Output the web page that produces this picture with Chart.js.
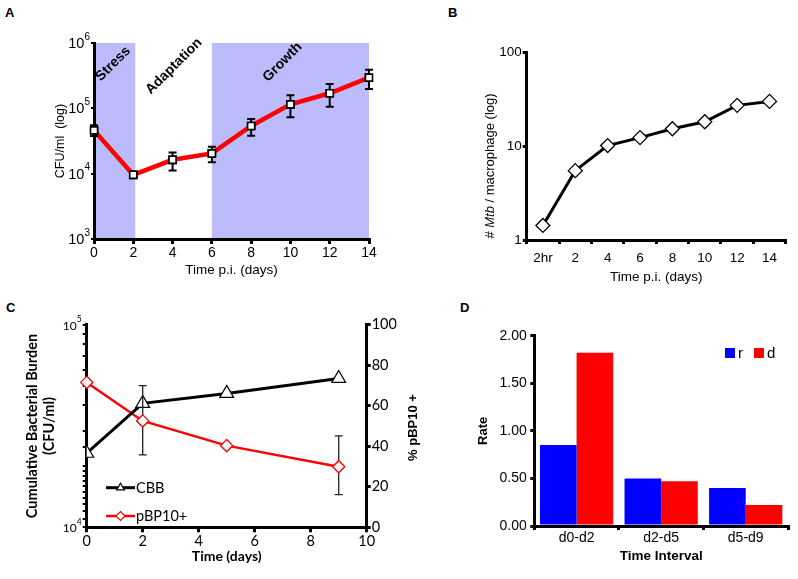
<!DOCTYPE html>
<html><head><meta charset="utf-8">
<script src="https://cdn.jsdelivr.net/npm/chart.js@4.4.0/dist/chart.umd.min.js"></script>
<style>
html,body{margin:0;padding:0;background:#fff;width:798px;height:579px;overflow:hidden;}
.pane{position:absolute;}
.lbl{position:absolute;font:bold 13px 'Liberation Sans',Arial,sans-serif;color:#000;line-height:13px;}
</style></head><body>
<div class="lbl" style="left:5px;top:6px">A</div>
<div class="lbl" style="left:448px;top:6px">B</div>
<div class="lbl" style="left:6px;top:301px">C</div>
<div class="lbl" style="left:460px;top:301px">D</div>
<div class="pane" style="left:0;top:0;width:400px;height:290px"><canvas id="cA"></canvas></div>
<div class="pane" style="left:400px;top:0;width:398px;height:290px"><canvas id="cB"></canvas></div>
<div class="pane" style="left:0;top:290px;width:430px;height:289px"><canvas id="cC"></canvas></div>
<div class="pane" style="left:430px;top:290px;width:368px;height:289px"><canvas id="cD"></canvas></div>
<script>
// ---------- data ----------
const A_days = [0, 2, 4, 6, 8, 10, 12, 14];
const A_cfu = [46000, 9600, 16300, 20400, 53600, 115000, 170000, 295000];
const A_errHigh = [55000, null, 21000, 25800, 68500, 158000, 236000, 390000];
const A_errLow = [37700, null, 11200, 14900, 38000, 73000, 106000, 197000];
const A_yTicks = [1e3, 1e4, 1e5, 1e6];
const A_phaseNames = ['Stress', 'Adaptation', 'Growth'];
const A_shadeStart = [0, 6];
const A_shadeEnd = [2.1, 14];

const B_labels = ['2hr', '2', '4', '6', '8', '10', '12', '14'];
const B_values = [1.43, 5.5, 10.2, 12.4, 15.4, 18.3, 27.4, 30.2];
const B_yTicks = [1, 10, 100];

const C_days = [0, 2, 5, 9];
const C_cbb = [23200, 40900, 45800, 54300];
const C_pbp = [71.5, 52.5, 40.3, 29.9];
const C_pbpErrLow = [null, 35.7, null, 16.1];
const C_pbpErrHigh = [null, 69.9, null, 45.1];

const D_labels = ['d0-d2', 'd2-d5', 'd5-d9'];
const D_r = [0.85, 0.50, 0.40];
const D_d = [1.82, 0.47, 0.22];

// ---------- helpers ----------
const ARIAL = "'Liberation Sans', Arial, sans-serif";
const CAL = "Lato, 'Liberation Sans', sans-serif";
Chart.defaults.color = '#000';
Chart.defaults.font.family = ARIAL;
Chart.defaults.animation = false;

function isPow10(v) { const e = Math.log10(v); return Math.abs(e - Math.round(e)) < 1e-9; }

// draws "10" with a raised exponent for the power-of-ten ticks of a log scale
function powLabelsPlugin(scaleId, baseSize, expSize, family, gap) {
  return {
    id: 'pow_' + scaleId,
    afterDraw(chart) {
      const s = chart.scales[scaleId];
      const ctx = chart.ctx;
      ctx.save();
      ctx.fillStyle = '#000';
      ctx.textBaseline = 'middle';
      s.ticks.forEach(t => {
        if (!isPow10(t.value)) return;
        const e = String(Math.round(Math.log10(t.value)));
        const y = s.getPixelForValue(t.value);
        const xr = s.right - gap;
        ctx.font = expSize + 'px ' + family;
        const ew = ctx.measureText(e).width;
        ctx.textAlign = 'left';
        ctx.fillText(e, xr - ew, y - baseSize * 0.42);
        ctx.font = baseSize + 'px ' + family;
        ctx.textAlign = 'right';
        ctx.fillText('10', xr - ew, y + 1);
      });
      ctx.restore();
    }
  };
}

const errorBarPlugin = {
  id: 'errbars',
  afterDatasetsDraw(chart) {
    const ctx = chart.ctx;
    chart.data.datasets.forEach((ds, di) => {
      if (!ds.errLow) return;
      const meta = chart.getDatasetMeta(di);
      const ys = chart.scales[meta.yAxisID];
      ctx.save();
      ctx.strokeStyle = ds.errColor || '#000';
      ctx.lineWidth = ds.errWidth || 2;
      const cap = ds.errCap || 4;
      meta.data.forEach((pt, i) => {
        const lo = ds.errLow[i], hi = ds.errHigh[i];
        if (lo == null || hi == null) return;
        const x = pt.x;
        const y1 = ys.getPixelForValue(lo), y2 = ys.getPixelForValue(hi);
        ctx.beginPath();
        ctx.moveTo(x, y1); ctx.lineTo(x, y2);
        ctx.moveTo(x - cap, y1); ctx.lineTo(x + cap, y1);
        ctx.moveTo(x - cap, y2); ctx.lineTo(x + cap, y2);
        ctx.stroke();
      });
      ctx.restore();
      meta.data.forEach(pt => pt.draw(ctx, chart.chartArea));
    });
  }
};

const axisCommon = (opts) => Object.assign({
  border: {color: '#000', width: 3},
  grid: {drawOnChartArea: false, color: '#000', lineWidth: 3, tickLength: 5},
}, opts);

// ---------- Panel A ----------
const shadePlugin = {
  id: 'shade',
  beforeDraw(chart) {
    const {ctx, chartArea, scales} = chart;
    ctx.save();
    ctx.fillStyle = '#bcbcfc';
    A_shadeStart.forEach((s, i) => {
      const x1 = scales.x.getPixelForValue(s), x2 = scales.x.getPixelForValue(A_shadeEnd[i]);
      ctx.fillRect(x1, chartArea.top, x2 - x1, chartArea.bottom - chartArea.top);
    });
    ctx.restore();
  },
  beforeDatasetsDraw(chart) {
    const {ctx, scales} = chart;
    const anchorX = [0.98, 4.07, 9.6];
    const anchorY = [4.8e5, 4.4e5, 5.1e5];
    ctx.save();
    ctx.font = 'bold 14px ' + ARIAL;
    ctx.fillStyle = '#000';
    ctx.textAlign = 'center';
    ctx.textBaseline = 'middle';
    A_phaseNames.forEach((n, i) => {
      ctx.save();
      ctx.translate(scales.x.getPixelForValue(anchorX[i]), scales.y.getPixelForValue(anchorY[i]));
      ctx.rotate(-Math.PI / 4);
      ctx.fillText(n, 0, 0);
      ctx.restore();
    });
    ctx.restore();
  }
};

new Chart(document.getElementById('cA'), {
  type: 'line',
  data: {datasets: [{
    data: A_days.map((d, i) => ({x: d, y: A_cfu[i]})),
    borderColor: '#ff0000', borderWidth: 4.5, tension: 0,
    pointStyle: 'rect', pointRadius: 5, pointBackgroundColor: '#fff',
    pointBorderColor: '#000', pointBorderWidth: 1.6,
    errLow: A_errLow, errHigh: A_errHigh, errCap: 4, errWidth: 2
  }]},
  options: {
    responsive: true, maintainAspectRatio: false,
    layout: {padding: {left: 40, top: 43, right: 31, bottom: 10}},
    plugins: {legend: {display: false}, tooltip: {enabled: false}},
    scales: {
      x: axisCommon({type: 'linear', min: 0, max: 14,
        ticks: {stepSize: 2, font: {size: 14}, padding: 1},
        title: {display: true, text: 'Time p.i. (days)', font: {size: 13.5}, padding: {top: 0, bottom: 2}},
        afterFit: s => { s.height = 41; s.paddingLeft = 0; s.paddingRight = 0; }}),
      y: axisCommon({type: 'logarithmic', min: 1000, max: 1e6,
        afterBuildTicks: s => { s.ticks = A_yTicks.map(v => ({value: v})); },
        ticks: {callback: () => '', font: {size: 14}, padding: 1},
        grid: {drawOnChartArea: false, color: '#000', lineWidth: 2, tickLength: 3},
        title: {display: true, text: 'CFU/ml  (log)', font: {size: 12.5}, padding: {top: 13.5, bottom: 0}},
        afterFit: s => { s.width = 54; s.paddingTop = 0; s.paddingBottom = 0; }})
    }
  },
  plugins: [shadePlugin, errorBarPlugin, powLabelsPlugin('y', 14.5, 10, ARIAL, 4)]
});

// ---------- Panel B ----------
const bTitlePlugin = {
  id: 'btitle',
  afterDraw(chart) {
    const ctx = chart.ctx;
    const parts = [['# ', 'normal'], ['Mtb', 'italic'], [' / macrophage (log)', 'normal']];
    ctx.save();
    ctx.fillStyle = '#000';
    ctx.textBaseline = 'middle';
    let total = 0;
    parts.forEach(p => { ctx.font = p[1] + ' 13px ' + ARIAL; total += ctx.measureText(p[0]).width; });
    ctx.translate(90, 166);
    ctx.rotate(-Math.PI / 2);
    let x = -total / 2;
    ctx.textAlign = 'left';
    parts.forEach(p => { ctx.font = p[1] + ' 13px ' + ARIAL; ctx.fillText(p[0], x, 0); x += ctx.measureText(p[0]).width; });
    ctx.restore();
  }
};

new Chart(document.getElementById('cB'), {
  type: 'line',
  data: {labels: B_labels, datasets: [{
    data: B_values, borderColor: '#000', borderWidth: 3, tension: 0,
    pointStyle: 'rectRot', pointRadius: 7, pointBackgroundColor: '#fff',
    pointBorderColor: '#000', pointBorderWidth: 1.3
  }]},
  options: {
    responsive: true, maintainAspectRatio: false,
    layout: {padding: {left: 60, top: 52.7, right: 12.3, bottom: 4}},
    plugins: {legend: {display: false}, tooltip: {enabled: false}},
    scales: {
      x: axisCommon({type: 'category', offset: true,
        grid: {drawOnChartArea: false, color: '#000', lineWidth: 3, tickLength: 4, offset: true},
        ticks: {font: {size: 13.5}, padding: 6},
        title: {display: true, text: 'Time p.i. (days)', font: {size: 13.5}, padding: {top: 0, bottom: 1}},
        afterFit: s => { s.height = 46; s.paddingLeft = 0; s.paddingRight = 0; }}),
      y: axisCommon({type: 'logarithmic', min: 1, max: 100,
        afterBuildTicks: s => { s.ticks = B_yTicks.map(v => ({value: v})); },
        ticks: {callback: v => String(v), font: {size: 13.5}, padding: 1},
        grid: {drawOnChartArea: false, color: '#000', lineWidth: 3, tickLength: 4},
        afterFit: s => { s.width = 66.7; s.paddingTop = 0; s.paddingBottom = 0; }})
    }
  },
  plugins: [bTitlePlugin]
});

// ---------- Panel C ----------
const cExtraPlugin = {
  id: 'cextra',
  afterDraw(chart) {
    const ctx = chart.ctx;
    ctx.save();
    ctx.fillStyle = '#000';
    ctx.font = 'bold 13px ' + ARIAL;
    ctx.textAlign = 'center'; ctx.textBaseline = 'middle';
    ctx.translate(413, 137.5);
    ctx.rotate(-Math.PI / 2);
    ctx.fillText('% pBP10 +', 0, 0);
    ctx.restore();
    const ys = [197.7, 226];
    chart.data.datasets.forEach((ds, i) => {
      const y = ys[i];
      ctx.save();
      ctx.strokeStyle = ds.borderColor; ctx.lineWidth = ds.borderWidth;
      ctx.beginPath(); ctx.moveTo(106, y); ctx.lineTo(135, y); ctx.stroke();
      ctx.fillStyle = ds.pointBackgroundColor; ctx.strokeStyle = ds.pointBorderColor; ctx.lineWidth = 1.2;
      Chart.helpers.drawPoint(ctx, {pointStyle: ds.pointStyle, radius: 4.5, borderWidth: 1.2}, 120.5, y);
      ctx.fillStyle = '#000';
      ctx.font = '14.5px ' + CAL;
      ctx.textAlign = 'left'; ctx.textBaseline = 'middle';
      ctx.fillText(ds.label, 136, y + 0.5);
      ctx.restore();
    });
  }
};

new Chart(document.getElementById('cC'), {
  type: 'line',
  data: {datasets: [
    {label: 'CBB', data: C_days.map((d, i) => ({x: d, y: C_cbb[i]})), yAxisID: 'y',
     borderColor: '#000', borderWidth: 3, tension: 0,
     pointStyle: 'triangle', pointRadius: 8, pointBackgroundColor: '#fff', pointBorderColor: '#000', pointBorderWidth: 1.2},
    {label: 'pBP10+', data: C_days.map((d, i) => ({x: d, y: C_pbp[i]})), yAxisID: 'y1',
     borderColor: '#ff0000', borderWidth: 2.5, tension: 0,
     pointStyle: 'rectRot', pointRadius: 6, pointBackgroundColor: '#fff', pointBorderColor: '#ff0000', pointBorderWidth: 1.2,
     errLow: C_pbpErrLow, errHigh: C_pbpErrHigh, errCap: 4, errWidth: 1.3, errColor: '#222'}
  ]},
  options: {
    responsive: true, maintainAspectRatio: false,
    layout: {padding: {left: 20, top: 34.7, right: 33.3, bottom: 0}},
    plugins: {legend: {display: false}, tooltip: {enabled: false}},
    scales: {
      x: axisCommon({type: 'linear', min: 0, max: 10,
        ticks: {stepSize: 2, font: {size: 14.5, family: CAL}, padding: 0},
        title: {display: true, text: 'Time (days)', font: {size: 14, weight: 'bold', family: CAL}, padding: {top: 0, bottom: 13.9}},
        afterFit: s => { s.height = 51.7; s.paddingLeft = 0; s.paddingRight = 0; }}),
      y: axisCommon({type: 'logarithmic', position: 'left', min: 1e4, max: 1e5,
        ticks: {callback: () => '', font: {size: 12, family: CAL}, padding: 1, autoSkip: false},
        grid: {drawOnChartArea: false, color: '#000', lineWidth: 2, tickLength: 4},
        title: {display: true, text: ['Cumulative Bacterial Burden', '(CFU/ml)'], font: {size: 14.5, weight: 'bold', family: CAL}, padding: {top: 3.3, bottom: 0}},
        afterFit: s => { s.width = 66.7; s.paddingTop = 0; s.paddingBottom = 0; }}),
      y1: axisCommon({type: 'linear', position: 'right', min: 0, max: 100,
        ticks: {stepSize: 20, font: {size: 14.5, family: CAL}, padding: 1},
        grid: {drawOnChartArea: false, color: '#000', lineWidth: 3, tickLength: 4},
        afterFit: s => { s.width = 30; s.paddingTop = 0; s.paddingBottom = 0; }})
    }
  },
  plugins: [errorBarPlugin, cExtraPlugin, powLabelsPlugin('y', 12, 8.5, CAL, 5)]
});

// ---------- Panel D ----------
const dLegendPlugin = {
  id: 'dlegend',
  afterDraw(chart) {
    const ctx = chart.ctx;
    const xs = [295, 324];
    ctx.save();
    chart.data.datasets.forEach((ds, i) => {
      ctx.fillStyle = ds.backgroundColor;
      ctx.fillRect(xs[i], 58, 10, 10);
      ctx.fillStyle = '#000';
      ctx.font = '15px ' + ARIAL;
      ctx.textAlign = 'left'; ctx.textBaseline = 'middle';
      ctx.fillText(ds.label, xs[i] + 13, 63.5);
    });
    ctx.restore();
  }
};

new Chart(document.getElementById('cD'), {
  type: 'bar',
  data: {labels: D_labels, datasets: [
    {label: 'r', data: D_r, backgroundColor: '#0000ff', categoryPercentage: 0.866, barPercentage: 1.0},
    {label: 'd', data: D_d, backgroundColor: '#ff0000', categoryPercentage: 0.866, barPercentage: 1.0}
  ]},
  options: {
    responsive: true, maintainAspectRatio: false,
    layout: {padding: {left: 30, top: 45.7, right: 10, bottom: 0}},
    plugins: {legend: {display: false}, tooltip: {enabled: false}},
    scales: {
      x: axisCommon({type: 'category',
        grid: {drawOnChartArea: false, color: '#000', lineWidth: 3, tickLength: 4, offset: true},
        ticks: {font: {size: 14}, padding: 0},
        title: {display: true, text: 'Time Interval', font: {size: 13.5, weight: 'bold'}, padding: {top: 0, bottom: 14.2}},
        afterFit: s => { s.height = 53; s.paddingLeft = 0; s.paddingRight = 0; }}),
      y: axisCommon({type: 'linear', min: 0, max: 2,
        ticks: {stepSize: 0.5, callback: v => Number(v).toFixed(2), font: {size: 14}, padding: 3.6},
        grid: {drawOnChartArea: false, color: '#000', lineWidth: 3, tickLength: 4},
        title: {display: true, text: 'Rate', font: {size: 13, weight: 'bold'}, padding: {top: 15.5, bottom: 0}},
        afterFit: s => { s.width = 74.3; s.paddingTop = 0; s.paddingBottom = 0; }})
    }
  },
  plugins: [dLegendPlugin]
});
</script>
</body></html>
